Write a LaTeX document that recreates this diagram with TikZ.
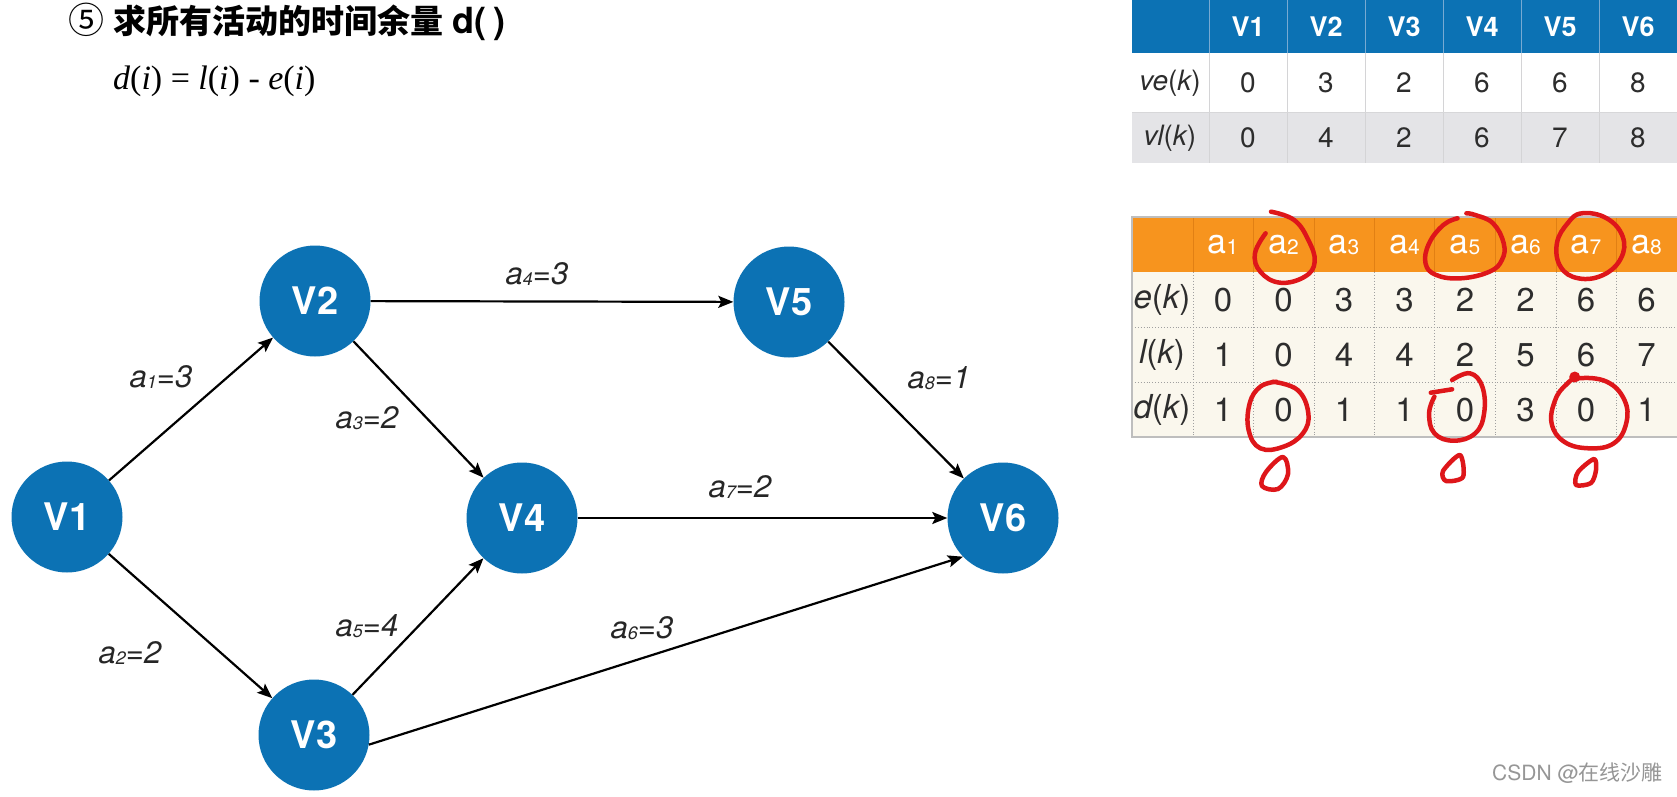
\documentclass[tikz,border=0pt]{standalone}
\usepackage{fontspec}
\setmainfont{TeX Gyre Heros}
\newfontfamily\cjk{Noto Sans CJK SC}
\newfontfamily\tms{Liberation Serif}
\usetikzlibrary{arrows.meta}
\definecolor{nodeblue}{RGB}{12,114,180}
\definecolor{hdrorange}{RGB}{247,148,30}
\definecolor{cream}{RGB}{250,247,237}
\definecolor{rowgray}{RGB}{228,228,231}
\definecolor{penred}{RGB}{222,22,26}
\definecolor{txt}{RGB}{45,45,45}
\tikzset{
  vert/.style={circle, fill=nodeblue, minimum size=111pt, inner sep=0pt, text=white,
    font=\bfseries\fontsize{38}{38}\selectfont},
  edge/.style={line width=2.2pt, -{Stealth[length=15pt,width=12pt,inset=3pt]}},
  elab/.style={font=\itshape\fontsize{31}{31}\selectfont, text=black!85},
  thead/.style={text=white, font=\bfseries\fontsize{27}{27}\selectfont},
  tcell/.style={text=txt, font=\fontsize{28}{28}\selectfont},
  bhead/.style={text=white, font=\fontsize{34}{34}\selectfont},
  bcell/.style={text=txt, font=\fontsize{33}{33}\selectfont},
  redpen/.style={draw=penred, line width=4.5pt, line cap=round, line join=round},
}
\newcommand{\sub}[1]{\raisebox{-1pt}{\fontsize{18}{18}\selectfont #1}}
\newcommand{\bsub}[1]{\raisebox{-1pt}{\fontsize{21}{21}\selectfont #1}}
\begin{document}
\begin{tikzpicture}[x=1pt,y=-1pt]
\path[use as bounding box, fill=white] (0,0) rectangle (1677,797);

% title and formula
\node[anchor=west, inner sep=0pt, font=\fontsize{33}{33}\selectfont] (title) at (68,22)
  {{\cjk\fontsize{36}{36}\selectfont ⑤} {\cjk\bfseries 求所有活动的时间余量} {\bfseries\fontsize{36}{36}\selectfont d(\hspace{7pt})}};
\node[anchor=west, inner sep=0pt, font=\tms\fontsize{34}{34}\selectfont] (formula) at (113,81)
  {{\itshape d}({\itshape i}) = {\itshape l}({\itshape i}) - {\itshape e}({\itshape i})};

% graph
\node[vert] (V1) at (67,517) {V1};
\node[vert] (V2) at (315,301) {V2};
\node[vert] (V3) at (314,735) {V3};
\node[vert] (V4) at (522,518) {V4};
\node[vert] (V5) at (789,302) {V5};
\node[vert] (V6) at (1003,518) {V6};

\draw[edge] (V1) -- (V2);
\draw[edge] (V1) -- (V3);
\draw[edge] (V2) -- (V4);
\draw[edge] (V2) -- (V5);
\draw[edge] (V3) -- (V4);
\draw[edge] (V3.-10) -- (V6.224);
\draw[edge] (V4) -- (V6);
\draw[edge] (V5) -- (V6);

\node[elab] (l1) at (161,377) {a\sub{1}=3};
\node[elab] (l2) at (130,653) {a\sub{2}=2};
\node[elab] (l3) at (367,418) {a\sub{3}=2};
\node[elab] (l4) at (537,274) {a\sub{4}=3};
\node[elab] (l5) at (367,626) {a\sub{5}=4};
\node[elab] (l6) at (642,628) {a\sub{6}=3};
\node[elab] (l7) at (740,487) {a\sub{7}=2};
\node[elab] (l8) at (939,378) {a\sub{8}=1};

% top table
\fill[nodeblue] (1132,0) rectangle (1677,53);
\fill[white] (1132,53) rectangle (1677,112);
\fill[rowgray] (1132,112) rectangle (1677,163);
\foreach \x in {1209,1287,1365,1443,1521,1599} {
  \draw[line width=1pt, draw={rgb,255:red,120;green,170;blue,210}] (\x,0) -- (\x,53);
  \draw[line width=0.8pt, draw={rgb,255:red,212;green,212;blue,214}] (\x,53) -- (\x,163);
}
\draw[line width=0.8pt, draw={rgb,255:red,215;green,215;blue,217}] (1132,112) -- (1677,112);
\foreach \i/\x in {1/1248,2/1326,3/1404,4/1482,5/1560,6/1638}
  \node[thead] (th\i) at (\x,27) {V\i};
\node[tcell] (tr1) at (1170,83) {{\itshape ve}({\itshape k})};
\node[tcell] (tr2) at (1170,138) {{\itshape vl}({\itshape k})};
\foreach \v [count=\i] in {0,3,2,6,6,8} {
  \pgfmathsetmacro{\xx}{1170+78*\i}
  \node[tcell] (te\i) at (\xx,83) {\v};
}
\foreach \v [count=\i] in {0,4,2,6,7,8} {
  \pgfmathsetmacro{\xx}{1170+78*\i}
  \node[tcell] (tl\i) at (\xx,138) {\v};
}

% bottom table
\fill[hdrorange] (1132,217) rectangle (1677,272);
\fill[cream] (1132,272) rectangle (1677,437);
\foreach \x in {1193,1253,1314,1374,1434,1495,1556,1616} {
  \draw[line width=0.8pt, draw={rgb,255:red,225;green,128;blue,20}] (\x,217) -- (\x,272);
  \draw[line width=0.9pt, dotted, draw={rgb,255:red,160;green,160;blue,160}] (\x,272) -- (\x,437);
}
\foreach \y in {327,382}
  \draw[line width=0.9pt, dotted, draw={rgb,255:red,160;green,160;blue,160}] (1132,\y) -- (1677,\y);
\draw[line width=1.2pt, draw={rgb,255:red,190;green,190;blue,190}] (1677,217) -- (1132,217) -- (1132,437) -- (1677,437);
\foreach \i in {1,...,8} {
  \pgfmathsetmacro{\xx}{1162.5+60.5*\i}
  \node[bhead] (bh\i) at (\xx,245) {a\bsub{\i}};
}
\node[bcell] (br1) at (1162,300) {{\itshape e}({\itshape k})};
\node[bcell] (br2) at (1162,355) {{\itshape l}({\itshape k})};
\node[bcell] (br3) at (1162,410) {{\itshape d}({\itshape k})};
\foreach \v [count=\i] in {0,0,3,3,2,2,6,6} {
  \pgfmathsetmacro{\xx}{1162.5+60.5*\i}
  \node[bcell] (be\i) at (\xx,300) {\v};
}
\foreach \v [count=\i] in {1,0,4,4,2,5,6,7} {
  \pgfmathsetmacro{\xx}{1162.5+60.5*\i}
  \node[bcell] (bl\i) at (\xx,355) {\v};
}
\foreach \v [count=\i] in {1,0,1,1,0,3,0,1} {
  \pgfmathsetmacro{\xx}{1162.5+60.5*\i}
  \node[bcell] (bd\i) at (\xx,410) {\v};
}

% red pen marks
\draw[redpen] plot[smooth, tension=0.7] coordinates {(1265.6,233.3) (1255,253.3) (1260.3,271.7) (1279.9,282.7) (1304.7,276.7) (1314.7,261.7) (1308.3,240) (1294.1,220) (1271,211.7)};
\draw[redpen] plot[smooth, tension=0.7] coordinates {(1466.4,213.3) (1475.2,215) (1493,223.3) (1503.7,243.3) (1501.9,260) (1489.4,271.7) (1461,278.3) (1436.2,275) (1425.5,263.3) (1429.1,243.3) (1443.3,225) (1457.5,218.3)};
\draw[redpen] plot[smooth cycle, tension=0.7] coordinates {(1581.8,213.3) (1606.7,218.3) (1622.7,236.7) (1620.9,258.3) (1603.1,275) (1578.3,278.3) (1560.5,266.7) (1556.9,243.3) (1567.6,223.3)};
\draw[redpen] plot[smooth, tension=0.7] coordinates {(1272.8,381.7) (1297.6,390) (1308.3,413.3) (1302.9,433.3) (1283.4,446.7) (1260.3,448.3) (1248.6,430) (1249.7,403.3) (1260.3,386.7) (1276.3,381.7)};
\draw[redpen] plot[smooth cycle, tension=0.6] coordinates {(1283,457) (1266,472) (1262,486) (1278,489) (1288,474)};
\draw[redpen] (1430.8,392.7) -- (1452.1,389.3);
\draw[redpen] plot[smooth, tension=0.7] coordinates {(1452.1,380) (1469.9,373.3) (1482.3,386.7) (1484.1,413.3) (1475.2,433.3) (1453.9,440.7) (1434.4,433.3) (1429.1,413.3) (1434.4,396.7)};
\draw[redpen] plot[smooth cycle, tension=0.5] coordinates {(1460,455) (1443,471) (1446,481) (1463,477)};
\fill[penred] (1574.7,377) circle[radius=5.5pt];
\draw[redpen] plot[smooth cycle, tension=0.7] coordinates {(1578.3,378.3) (1606.7,381.7) (1624.4,400) (1626.2,423.3) (1613.8,443.3) (1588.9,448.3) (1564.1,441.7) (1551.6,423.3) (1555.2,400) (1565.8,385)};
\draw[redpen] plot[smooth cycle, tension=0.5] coordinates {(1594,459) (1578,472) (1576,485) (1591,483) (1596,470)};

% watermark
\node[anchor=east, inner sep=0pt, text={rgb,255:red,150;green,150;blue,150}, font=\fontsize{21}{21}\selectfont] (wm) at (1663,773) {CSDN @{\cjk 在线沙雕}};
\end{tikzpicture}
\end{document}
